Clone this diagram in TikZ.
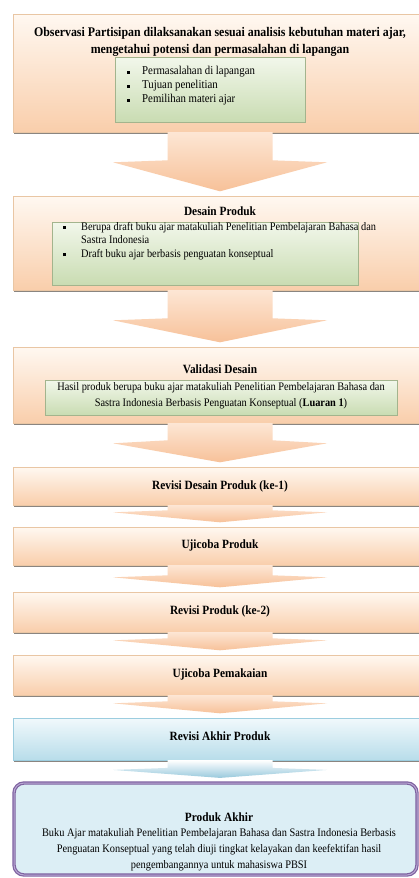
\documentclass[tikz,border=0pt]{standalone}
\usepackage{fontspec}
\setmainfont[FakeStretch=0.9]{Liberation Serif}
\usetikzlibrary{shadows}

\definecolor{peachtop}{HTML}{FFF8F1}
\definecolor{peachbottom}{HTML}{F9CEAB}
\definecolor{peachline}{HTML}{E9C6A4}
\definecolor{arrowtop}{HTML}{FDE6D4}
\definecolor{arrowbottom}{HTML}{F7C199}
\definecolor{greentop}{HTML}{F2F7EB}
\definecolor{greenbottom}{HTML}{C9DCB2}
\definecolor{greenline}{HTML}{A3B48D}
\definecolor{bluetop}{HTML}{F1F9FC}
\definecolor{bluebottom}{HTML}{B8DDEA}
\definecolor{blueline}{HTML}{9CCDDF}
\definecolor{bluearrow}{HTML}{98C9DC}
\definecolor{purpleline}{HTML}{7E62A0}
\definecolor{lavender}{HTML}{B9A8D3}
\definecolor{finalfill}{HTML}{DCEEF5}
\definecolor{shadowgray}{HTML}{8A8580}

\tikzstyle{stagebox}=[draw=peachline,top color=peachtop,bottom color=peachbottom,minimum width=414pt,inner sep=0pt,font=\bfseries\fontsize{12.6}{17}\selectfont,drop shadow={shadow xshift=0.6pt,shadow yshift=-1.6pt,fill=shadowgray,opacity=1}]
\tikzstyle{innerbox}=[draw=greenline,top color=greentop,bottom color=greenbottom,inner sep=0pt,drop shadow={shadow xshift=0.8pt,shadow yshift=-1.2pt,fill=shadowgray,opacity=.8}]
\tikzstyle{stagetitle}=[font=\bfseries\fontsize{12.6}{17}\selectfont,align=center,inner sep=0pt]
\tikzstyle{stagetext}=[font=\fontsize{11.5}{13.6}\selectfont,inner sep=0pt]
\tikzstyle{flowarrow}=[top color=arrowtop,bottom color=arrowbottom]
\tikzstyle{bluearrow}=[top color=white,bottom color=bluearrow]

\newcommand{\sqb}[1][16pt]{\makebox[#1][l]{\rule[0.25ex]{2.6pt}{2.6pt}}}
% block arrow: style, from, to, neck height, wing height
\newcommand{\blockarrow}[5]{%
  \coordinate (tipbase) at (#2.south |- #3.north);
  \coordinate (tip) at ([yshift=4.5pt]tipbase);
  \path[#1] ([xshift=-52.5pt]#2.south) -- ([xshift=-52.5pt,yshift=#4]tip)
    -- ([xshift=-107pt,yshift=#5]tip) -- (tip) -- ([xshift=107pt,yshift=#5]tip)
    -- ([xshift=52.5pt,yshift=#4]tip) -- ([xshift=52.5pt]#2.south) -- cycle;}

\begin{document}
\begin{tikzpicture}[x=1pt,y=-1pt]
\clip (0,0) rectangle (419,878);
\fill[white] (0,0) rectangle (419,878);

% stages
\node[stagebox,minimum height=118pt] (observasi) at (220,73) {};
\node[stagetitle,font=\bfseries\fontsize{13.2}{17}\selectfont] (observasititle) at (220,41.5) {Observasi Partisipan dilaksanakan sesuai analisis kebutuhan materi ajar,\\ mengetahui potensi dan permasalahan di lapangan};
\node[innerbox,minimum width=190pt,minimum height=65pt] (observasiinner) at (210,89.5) {};
\node[stagetext,font=\fontsize{12}{14}\selectfont,anchor=west,align=left] (observasilist) at (127,86) {\sqb[15pt]Permasalahan di lapangan\\ \sqb[15pt]Tujuan penelitian\\ \sqb[15pt]Pemilihan materi ajar};

\node[stagebox,minimum height=94pt] (desain) at (220,243) {};
\node[stagetitle] (desaintitle) at (220,211) {Desain Produk};
\node[innerbox,minimum width=306pt,minimum height=63pt] (desaininner) at (205,253.5) {};
\node[stagetext,anchor=west,align=left] (desainlist) at (63,241) {\sqb[18pt]Berupa draft buku ajar matakuliah Penelitian Pembelajaran Bahasa dan\\ \hspace*{18pt}Sastra Indonesia\\ \sqb[18pt]Draft buku ajar berbasis penguatan konseptual};

\node[stagebox,minimum height=76pt] (validasi) at (220,385) {};
\node[stagetitle] (validasititle) at (220,369) {Validasi Desain};
\node[innerbox,minimum width=352pt,minimum height=35pt] (validasiinner) at (221,397.5) {};
\node[stagetext,align=center,font=\fontsize{11.5}{16}\selectfont] (validasitext) at (221,395.5) {Hasil produk berupa buku ajar matakuliah Penelitian Pembelajaran Bahasa dan\\ Sastra Indonesia Berbasis Penguatan Konseptual (\textbf{Luaran 1})};

\node[stagebox,minimum height=38pt] (revisi1) at (220,486) {Revisi Desain Produk (ke-1)};
\node[stagebox,minimum height=38pt] (ujicoba) at (220,546) {\raisebox{3pt}{Ujicoba Produk}};
\node[stagebox,minimum height=40pt] (revisi2) at (220,612) {\raisebox{4pt}{Revisi Produk (ke-2)}};
\node[stagebox,minimum height=40pt] (pemakaian) at (220,675) {\raisebox{4pt}{Ujicoba Pemakaian}};
\node[stagebox,draw=blueline,top color=bluetop,bottom color=bluebottom,minimum height=42pt] (revisiakhir) at (220,739) {\raisebox{5pt}{Revisi Akhir Produk}};

\node[draw=purpleline,line width=1.2pt,double=lavender,double distance=1pt,fill=finalfill,rounded corners=10pt,minimum width=403pt,minimum height=92pt] (produkakhir) at (215.5,829) {};
\node[stagetitle] (produkakhirtitle) at (219,817) {Produk Akhir};
\node[stagetext,align=center,font=\fontsize{11.5}{16}\selectfont] (produkakhirtext) at (219,849.5) {Buku Ajar matakuliah Penelitian Pembelajaran Bahasa dan Sastra Indonesia Berbasis\\ Penguatan Konseptual yang telah diuji tingkat kelayakan dan keefektifan hasil\\ pengembangannya untuk mahasiswa PBSI};

% arrows
\blockarrow{flowarrow}{observasi}{desain}{31pt}{29pt}
\blockarrow{flowarrow}{desain}{validasi}{24pt}{22pt}
\blockarrow{flowarrow}{validasi}{revisi1}{22pt}{19pt}
\blockarrow{flowarrow}{revisi1}{ujicoba}{12pt}{10pt}
\blockarrow{flowarrow}{ujicoba}{revisi2}{12pt}{10pt}
\blockarrow{flowarrow}{revisi2}{pemakaian}{12pt}{10pt}
\blockarrow{flowarrow}{pemakaian}{revisiakhir}{12pt}{10pt}
\blockarrow{bluearrow}{revisiakhir}{produkakhir}{10pt}{8pt}

\end{tikzpicture}
\end{document}
